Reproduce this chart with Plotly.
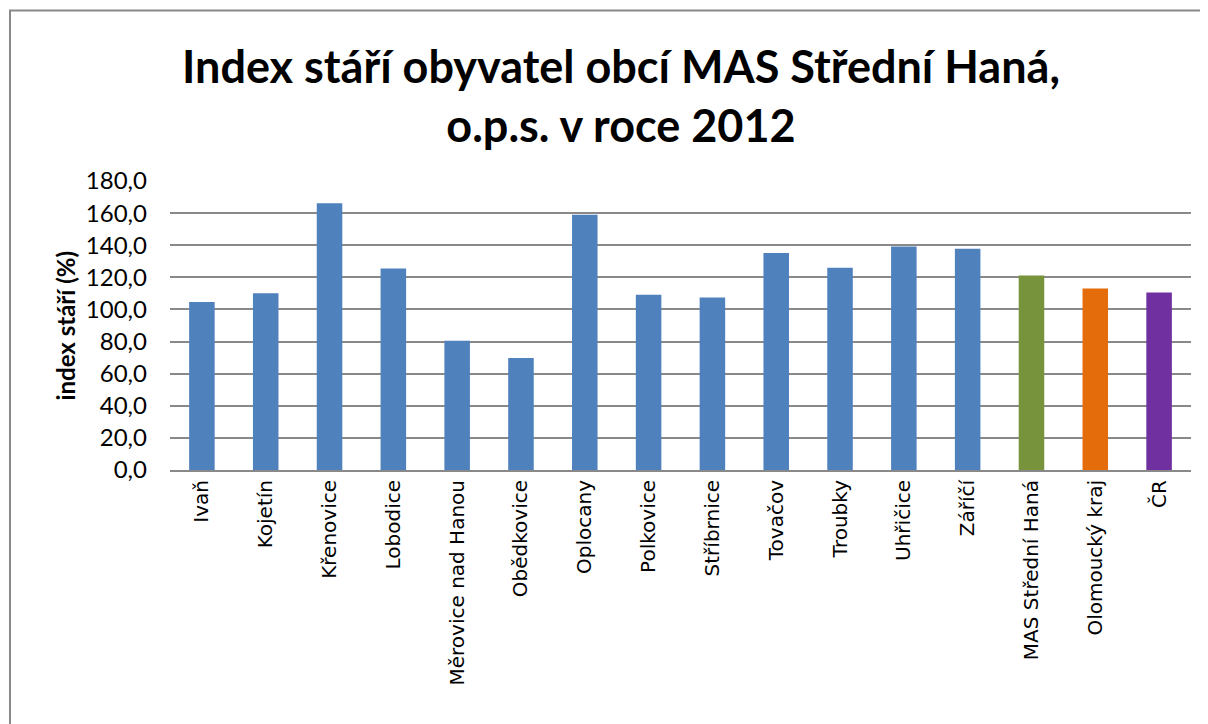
import plotly.graph_objects as go

obce = ["Ivaň", "Kojetín", "Křenovice", "Lobodice", "Měrovice nad Hanou", "Obědkovice",
        "Oplocany", "Polkovice", "Stříbrnice", "Tovačov", "Troubky", "Uhřičice", "Záříčí",
        "MAS Střední Haná", "Olomoucký kraj", "ČR"]
index_stari = [104.7, 110.1, 166.1, 125.5, 80.5, 69.7, 159.0, 109.1, 107.4, 135.1,
               125.9, 139.2, 137.8, 121.1, 113.0, 110.5]
barvy = ["#4F81BD"] * 13 + ["#77933C", "#E46C0A", "#7030A0"]
y_ticks = [0, 20, 40, 60, 80, 100, 120, 140, 160, 180]
y_labels = ["0,0", "20,0", "40,0", "60,0", "80,0", "100,0", "120,0", "140,0", "160,0", "180,0"]

fig = go.Figure(go.Bar(x=obce, y=index_stari, marker=dict(color=barvy, line=dict(width=0)),
                       width=0.4))

# stranka ma 8px okraj, proto 1200x716
fig.update_layout(
    width=1200, height=716,
    paper_bgcolor="white", plot_bgcolor="white",
    margin=dict(l=162, r=17, t=173, b=254),
    showlegend=False,
    font=dict(family="DejaVu Sans", color="black"),
)
fig.update_xaxes(tickangle=-90, tickfont=dict(family="DejaVu Sans", size=20),
                 showline=True, linecolor="#898989", linewidth=2, ticks="", showgrid=False)
fig.update_yaxes(range=[0, 180], tickvals=y_ticks, ticktext=y_labels,
                 tickfont=dict(family="Lato", size=24), ticklabelstandoff=22,
                 showgrid=True, gridcolor="#898989", gridwidth=2, zeroline=False,
                 showline=False, ticks="")

fig.add_annotation(text="<b>Index stáří obyvatel obcí MAS Střední Haná,<br>o.p.s. v roce 2012</b>",
                   xref="paper", yref="paper", x=0.4417, y=1.50, xanchor="center", yanchor="top",
                   showarrow=False, font=dict(family="Lato", size=45, color="black"))
fig.add_annotation(text="<b>index stáří (%)</b>", textangle=-90,
                   xref="paper", yref="paper", x=-0.1028, y=0.5, xanchor="center", yanchor="middle",
                   showarrow=False, font=dict(family="Lato", size=24, color="black"))

# ramecek grafu - jen horni a leva hrana jsou videt
fig.add_shape(type="line", xref="paper", yref="paper", x0=-0.1577, x1=1.1, y0=1.59, y1=1.59,
              line=dict(color="#898989", width=2))
fig.add_shape(type="line", xref="paper", yref="paper", x0=-0.1567, x1=-0.1567, y0=-1.2, y1=1.59,
              line=dict(color="#898989", width=2))

fig.write_html("out.html")
